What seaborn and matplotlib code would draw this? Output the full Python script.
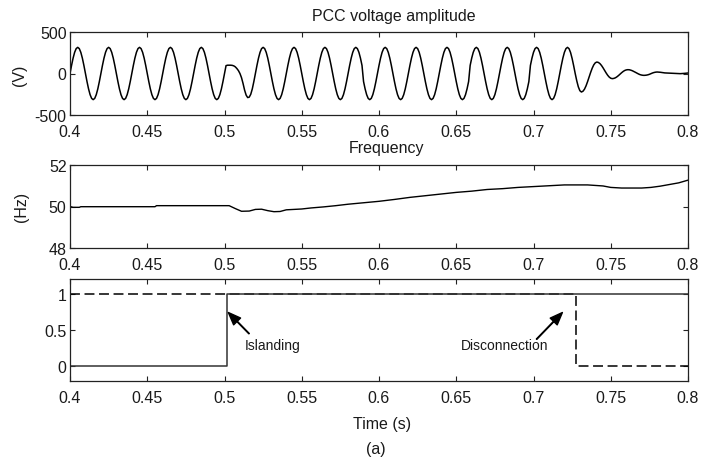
import numpy as np
import pandas as pd
import matplotlib
matplotlib.use("Agg")
import matplotlib.pyplot as plt
import seaborn as sns

# ---------------- data ----------------
# PCC voltage (V), sampled every 1 ms from 0.400 s to 0.800 s
voltage_start = 0.4
voltage_step = 0.001
voltage_v = [
    0, 97, 185, 255, 300, 315, 300, 255, 185, 97, 0, -97, -185, -255, -300, -315, -300, -255, -185, -97,
    0, 97, 185, 255, 300, 315, 300, 255, 185, 97, 0, -97, -185, -255, -300, -315, -300, -255, -185, -97,
    0, 97, 185, 255, 300, 315, 300, 255, 185, 97, 0, -97, -185, -255, -300, -315, -300, -255, -185, -97,
    0, 97, 185, 255, 300, 315, 300, 255, 185, 97, 0, -97, -185, -255, -300, -315, -300, -255, -185, -97,
    0, 97, 185, 255, 300, 315, 300, 255, 185, 97, 0, -97, -185, -255, -300, -315, -300, -255, -185, -97,
    0, 95, 100, 100, 100, 98, 92, 80, 60, 35, 0, -50, -120, -200, -260, -290, -285, -250, -185, -97,
    0, 97, 185, 255, 300, 315, 300, 255, 185, 97, 0, -97, -185, -255, -300, -315, -300, -255, -185, -97,
    0, 97, 185, 255, 300, 315, 300, 255, 185, 97, 0, -97, -185, -255, -300, -315, -300, -255, -185, -97,
    0, 97, 185, 255, 300, 315, 300, 255, 185, 97, 0, -97, -185, -255, -300, -315, -300, -255, -185, -97,
    0, 97, 185, 255, 300, 315, 300, 255, 185, 97, -97, -185, -255, -300, -315, -300, -255, -185, -97, 0,
    97, 185, 255, 300, 315, 300, 255, 185, 97, 0, -97, -185, -255, -300, -315, -300, -255, -185, -97, 0,
    97, 185, 255, 300, 315, 300, 255, 185, 97, 0, -97, -185, -255, -300, -315, -300, -255, -185, -97, 0,
    97, 185, 255, 300, 315, 300, 255, 185, 97, 0, -97, -185, -255, -300, -315, -300, -255, -185, -97, 97,
    185, 255, 300, 315, 300, 255, 185, 97, 0, -97, -185, -255, -300, -315, -300, -255, -185, -97, 0, 97,
    185, 255, 300, 315, 300, 255, 185, 97, 0, -97, -185, -255, -300, -315, -300, -255, -185, -97, 97, 185,
    255, 300, 315, 300, 255, 185, 97, 0, -97, -185, -255, -300, -315, -300, -255, -185, -97, 0, 97, 185,
    255, 300, 315, 299, 252, 180, 93, -1, -88, -160, -207, -223, -214, -189, -149, -98, -42, 14, 64, 104,
    129, 138, 133, 119, 97, 69, 38, 7, -21, -43, -57, -62, -59, -52, -40, -25, -8, 9, 24, 36,
    43, 46, 45, 40, 33, 24, 14, 4, -6, -14, -19, -22, -22, -20, -16, -10, -2, 6, 12, 16,
    18, 17, 15, 12, 9, 7, 6, 5, 5, 4, 3, 2, 0, -1, -2, -2, -1, 0, 2, 4,
    6,
]
voltage_t = np.round(voltage_start + voltage_step * np.arange(len(voltage_v)), 4)

# Frequency (Hz)
freq_t = [0.400, 0.402, 0.406, 0.407, 0.455, 0.456, 0.503, 0.507, 0.511, 0.516, 0.520,
          0.524, 0.528, 0.532, 0.536, 0.540, 0.550, 0.556, 0.564, 0.572, 0.580, 0.590,
          0.600, 0.610, 0.620, 0.630, 0.640, 0.650, 0.660, 0.670, 0.680, 0.690, 0.700,
          0.710, 0.720, 0.735, 0.745, 0.750, 0.757, 0.770, 0.776, 0.782, 0.788, 0.794, 0.800]
freq_hz = [50.00, 49.96, 49.96, 49.99, 49.99, 50.04, 50.04, 49.90, 49.77, 49.78, 49.86,
           49.87, 49.80, 49.75, 49.76, 49.84, 49.88, 49.93, 49.98, 50.04, 50.11, 50.18,
           50.25, 50.34, 50.44, 50.52, 50.60, 50.68, 50.74, 50.82, 50.86, 50.92, 50.96,
           51.00, 51.04, 51.04, 50.99, 50.92, 50.89, 50.89, 50.92, 50.98, 51.06, 51.14, 51.27]

# Status signals (steps)
island_t = [0.4, 0.5015, 0.8]
island_v = [0, 1, 1]
connect_t = [0.4, 0.7273, 0.8]
connect_v = [1, 0, 0]

x_ticks = [0.4, 0.45, 0.5, 0.55, 0.6, 0.65, 0.7, 0.75, 0.8]
x_labels = ["0.4", "0.45", "0.5", "0.55", "0.6", "0.65", "0.7", "0.75", "0.8"]

# ---------------- style ----------------
sns.set_theme(style="white")
plt.rcParams["font.family"] = ["Liberation Sans", "DejaVu Sans"]
plt.rcParams["axes.edgecolor"] = "#222222"
plt.rcParams["axes.linewidth"] = 0.9
TXT = "#1a1a1a"
FS = 11.5

W, H = 705, 460
fig = plt.figure(figsize=(W / 100, H / 100), dpi=100)

def box(l, t, r, b):
    return [l / W, 1 - b / H, (r - l) / W, (b - t) / H]

ax1 = fig.add_axes(box(70, 33, 688, 116))
ax2 = fig.add_axes(box(70, 166, 688, 249))
ax3 = fig.add_axes(box(70, 280, 688, 382))

df_v = pd.DataFrame({"t": voltage_t, "v": voltage_v})
sns.lineplot(data=df_v, x="t", y="v", ax=ax1, color="black", lw=1.1,
             estimator=None, sort=False)
df_f = pd.DataFrame({"t": freq_t, "f": freq_hz})
sns.lineplot(data=df_f, x="t", y="f", ax=ax2, color="black", lw=1.0,
             estimator=None, sort=False)
sns.lineplot(x=connect_t, y=connect_v, ax=ax3, color="black", lw=1.1,
             estimator=None, sort=False, drawstyle="steps-post", dashes=False,
             linestyle=(0, (6.5, 3)))
sns.lineplot(x=island_t, y=island_v, ax=ax3, color="#333333", lw=1.1,
             estimator=None, sort=False, drawstyle="steps-post")

for ax in (ax1, ax2, ax3):
    ax.set_xlim(0.4, 0.8)
    ax.set_xticks(x_ticks)
    ax.set_xticklabels(x_labels)
    ax.set_xlabel("")
    ax.set_ylabel("")
    ax.tick_params(which="both", direction="in", top=True, right=True,
                   bottom=True, left=True, length=3.5, width=0.8,
                   color="#222222", labelsize=FS, labelcolor=TXT)
    ax.tick_params(axis="x", pad=6.5)
    ax.tick_params(axis="y", pad=2.5)
    for s in ax.spines.values():
        s.set_visible(True)
        s.set_color("#222222")

ax1.set_ylim(-500, 500)
ax1.set_yticks([-500, 0, 500])
ax1.set_yticklabels(["-500", "0", "500"])
ax2.set_ylim(48, 52)
ax2.set_yticks([48, 50, 52])
ax2.set_yticklabels(["48", "50", "52"])
ax3.set_ylim(-0.2, 1.2)
ax3.set_yticks([0, 0.5, 1])
ax3.set_yticklabels(["0", "0.5", "1"])

# titles / labels
fig.text(394 / W, 1 - 20.7 / H, "PCC voltage amplitude", ha="center", va="baseline",
         fontsize=FS, color=TXT)
fig.text(386.7 / W, 1 - 153.3 / H, "Frequency", ha="center", va="baseline",
         fontsize=FS, color=TXT)
fig.text(382.5 / W, 1 - 429 / H, "Time (s)", ha="center", va="baseline",
         fontsize=FS, color=TXT)
fig.text(376 / W, 1 - 449.5 / H, "(a)", ha="center", va="center",
         fontsize=FS, color=TXT)
fig.text(20 / W, 1 - 75 / H, "(V)", ha="center", va="center", rotation=90,
         fontsize=FS, color=TXT)
fig.text(21.7 / W, 1 - 206.7 / H, "(Hz)", ha="center", va="center", rotation=90,
         fontsize=FS, color=TXT)

# annotations
arrow = dict(facecolor="black", edgecolor="black", width=0.4, headwidth=7,
             headlength=9, shrink=0)
ax3.annotate("", xy=(0.5025, 0.74), xytext=(0.5159, 0.45), arrowprops=arrow)
ax3.text(0.5128, 0.29, "Islanding", ha="left", va="center", fontsize=10, color=TXT)
ax3.annotate("", xy=(0.7187, 0.74), xytext=(0.7020, 0.374), arrowprops=arrow)
ax3.text(0.6811, 0.29, "Disconnection", ha="center", va="center", fontsize=10, color=TXT)

fig.savefig("out.png", dpi=100)
